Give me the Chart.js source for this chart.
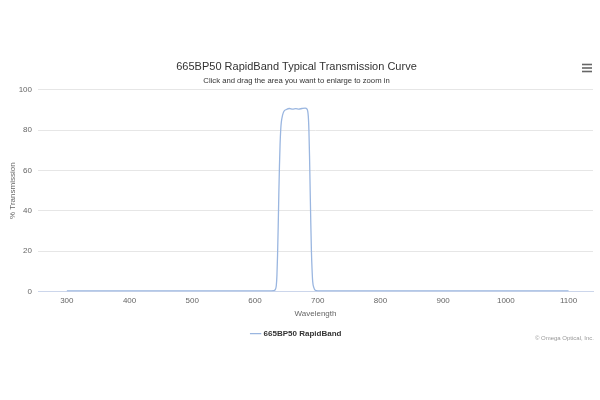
<!DOCTYPE html>
<html>
<head>
<meta charset="utf-8">
<title>665BP50 RapidBand Typical Transmission Curve</title>
<script src="https://cdn.jsdelivr.net/npm/chart.js@4.4.0/dist/chart.umd.min.js"></script>
<style>
    html, body { margin: 0; padding: 0; background: #fff; }
    #wrap { width: 600px; height: 400px; }
</style>
</head>
<body>
<div id="wrap"><canvas id="curve"></canvas></div>
<script>
// wavelength (nm) and % transmission
const wavelengths = [300, 400, 500, 600, 620, 630, 632, 634, 635, 636, 637, 638, 639, 640, 641, 642, 644, 646, 650, 655, 660, 665, 670, 675, 680, 683, 685, 686, 687, 688, 689, 690, 691, 692, 694, 696, 700, 800, 900, 1000, 1100];
const transmission = [0.3, 0.3, 0.3, 0.3, 0.3, 0.4, 0.8, 3, 8, 18, 32, 48, 62, 73, 80, 84, 87.5, 89.3, 90.3, 90.8, 90.5, 90.7, 90.5, 90.8, 91, 90.5, 87, 80, 67, 50, 34, 20, 11, 5, 1.8, 0.6, 0.3, 0.3, 0.3, 0.3, 0.3];
const xTicks = [300, 400, 500, 600, 700, 800, 900, 1000, 1100];
const yTicks = [0, 20, 40, 60, 80, 100];

const points = wavelengths.map((w, i) => ({ x: w, y: transmission[i] }));

// menu icon and credit line, drawn like the original page
const extras = {
    id: 'extras',
    afterDraw(chart) {
        const ctx = chart.ctx;
        ctx.save();
        ctx.strokeStyle = '#666';
        ctx.lineWidth = 1.6;
        [64.5, 68, 71.5].forEach(y => {
            ctx.beginPath();
            ctx.moveTo(582, y);
            ctx.lineTo(592, y);
            ctx.stroke();
        });
        ctx.fillStyle = '#999';
        ctx.font = '6px "Liberation Sans"';
        ctx.textAlign = 'right';
        ctx.textBaseline = 'middle';
        ctx.fillText('\u00a9 Omega Optical, Inc.', 594, 338);
        ctx.restore();
    }
};

Chart.defaults.font.family = '"Liberation Sans", Arial, sans-serif';
Chart.defaults.color = '#666';

new Chart(document.getElementById('curve'), {
    type: 'line',
    data: {
        datasets: [{
            label: '665BP50 RapidBand',
            data: points,
            borderColor: '#9ab6e0',
            backgroundColor: '#9ab6e0',
            borderWidth: 1.3,
            pointRadius: 0,
            cubicInterpolationMode: 'monotone',
            fill: false
        }]
    },
    options: {
        responsive: true,
        maintainAspectRatio: false,
        animation: false,
        layout: { padding: { top: 0, left: 0, right: 7, bottom: 52.3 } },
        plugins: {
            title: {
                display: true,
                text: '665BP50 RapidBand Typical Transmission Curve',
                color: '#333',
                font: { size: 11, weight: 'normal' },
                padding: { top: 60, bottom: 1.5 }
            },
            subtitle: {
                display: true,
                text: 'Click and drag the area you want to enlarge to zoom in',
                color: '#333',
                font: { size: 7.7 },
                padding: { top: 1.5, bottom: 4.5 }
            },
            legend: {
                position: 'bottom',
                labels: {
                    usePointStyle: true,
                    pointStyle: 'line',
                    color: '#333',
                    font: { size: 8, weight: 'bold' },
                    padding: 11
                }
            },
            tooltip: { enabled: false }
        },
        scales: {
            x: {
                type: 'linear',
                min: 254,
                max: 1139,
                afterBuildTicks: scale => { scale.ticks = xTicks.map(v => ({ value: v })); },
                grid: { display: false, drawTicks: false },
                border: { display: true, color: '#ccd6eb' },
                ticks: { font: { size: 8 }, padding: 4, callback: v => String(v) },
                title: {
                    display: true,
                    text: 'Wavelength',
                    font: { size: 8 },
                    padding: { top: 0, bottom: 0 }
                }
            },
            y: {
                min: 0,
                max: 100,
                afterBuildTicks: scale => { scale.ticks = yTicks.map(v => ({ value: v })); },
                afterFit: scale => { scale.width = 38; },
                grid: { color: '#e6e6e6', drawTicks: false },
                border: { display: false },
                ticks: { font: { size: 8 }, padding: 6, callback: v => String(v) },
                title: {
                    display: true,
                    text: '% Transmission',
                    font: { size: 8 },
                    padding: { top: 8, bottom: 0 }
                }
            }
        }
    },
    plugins: [extras]
});
</script>
</body>
</html>
